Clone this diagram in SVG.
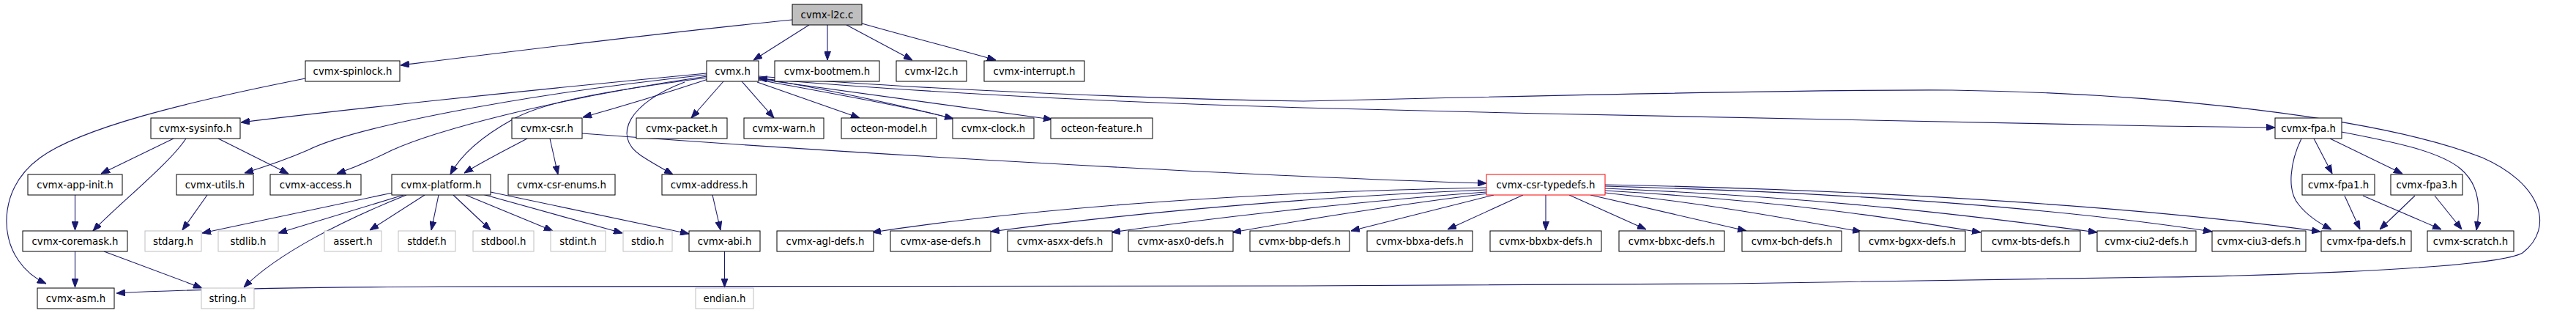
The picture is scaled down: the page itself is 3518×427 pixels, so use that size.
<svg xmlns="http://www.w3.org/2000/svg" width="3518" height="427" viewBox="0 0 3518 427">
<style>
rect{fill:#fff;stroke:#000;stroke-width:1}
.s rect{stroke:#bfbfbf}
.r rect{stroke:#ff0000}
.m rect{fill:#bfbfbf}
text{font-family:"DejaVu Sans","Liberation Sans",sans-serif;font-size:13.3px;text-anchor:middle;fill:#000}
#edges path{fill:none;stroke:#191970;stroke-width:1.1}
#edges path.f{marker-end:url(#a)}
#edges path.b{marker-start:url(#a)}
</style>
<defs>
<marker id="a" markerUnits="userSpaceOnUse" markerWidth="12" markerHeight="9" viewBox="0 0 12 9" refX="12" refY="4.5" orient="auto-start-reverse">
<path d="M0,0 L12,4.5 L0,9 z" fill="#191970" stroke="#191970" stroke-width="1"/>
</marker>
</defs>
<rect x="0" y="0" width="3518" height="427" style="fill:#fff;stroke:none"/>
<g id="edges">
<path class="f" d="M1082,27 C900,45 700,70 547,89"/>
<path class="f" d="M1105,34 L1029,82"/>
<path class="f" d="M1130,34 L1130,82"/>
<path class="f" d="M1156,34 L1246,82"/>
<path class="f" d="M1177,32 C1240,50 1300,65 1360,82"/>
<path class="f" d="M417,107 C250,140 110,175 55,215 C0,255 0,320 25,355 C35,370 48,380 63,387"/>
<path class="f" d="M965,100 C700,125 450,152 329,167"/>
<path class="f" d="M965,102 C700,130 480,175 420,205 C390,218 360,228 334,236"/>
<path class="f" d="M966,104 C750,135 590,180 535,205 C505,220 485,228 460,237"/>
<path class="f" d="M967,108 C900,130 850,145 796,160"/>
<path class="f" d="M965,106 C820,125 740,140 700,163 C660,185 630,210 615,238"/>
<path class="f" d="M935,112 C860,140 835,185 875,212 C890,222 905,230 919,238"/>
<path class="f" d="M988,111 L944,161"/>
<path class="f" d="M1013,111 L1057,161"/>
<path class="f" d="M1034,112 L1174,161"/>
<path class="f" d="M1036,109 C1150,130 1250,148 1302,162"/>
<path class="b" d="M1036,106 C1150,126 1240,146 1302,162"/>
<path class="f" d="M1036,108 C1200,130 1350,150 1437,163"/>
<path class="f" d="M1036,107 C1300,130 1600,142 1780,147 C2200,158 2700,168 2950,172 C3010,173 3060,173 3107,174"/>
<path class="f" d="M1036,104 C1300,125 1600,135 1780,138 C2200,128 2500,122 2666,123 C2950,127 3250,160 3390,215 C3470,250 3490,310 3445,345 C3400,370 3000,378 2950,378 L2360,387 L1770,390 L600,391 C400,392 250,395 159,400"/>
<path class="f" d="M795,182 C1200,212 1700,240 2030,250"/>
<path class="f" d="M720,189 C690,205 660,220 634,236"/>
<path class="f" d="M751,189 L762,238"/>
<path class="f" d="M237,189 L138,237"/>
<path class="f" d="M254,189 C230,225 160,280 127,315"/>
<path class="f" d="M298,189 L394,237"/>
<path class="f" d="M102.5,266 L102.5,314"/>
<path class="f" d="M283,266 L249,314"/>
<path class="f" d="M102.5,343 L102.5,392"/>
<path class="f" d="M142,343 L276,393"/>
<path class="f" d="M536,263 L276,318"/>
<path class="f" d="M551,266 L380,318"/>
<path class="f" d="M555,266 C470,300 380,345 333,392"/>
<path class="f" d="M580,266 L505,314"/>
<path class="f" d="M599,266 L589,314"/>
<path class="f" d="M619,266 L670,314"/>
<path class="f" d="M636,266 L755,315"/>
<path class="f" d="M659,265 L850,318"/>
<path class="f" d="M670,262 L941,319"/>
<path class="f" d="M973,266 L984,314"/>
<path class="f" d="M989.5,343 L989.5,392"/>
<path class="f" d="M2030,256 C1700,262 1400,285 1191,317"/>
<path class="f" d="M2030,259 C1800,268 1550,290 1353,316"/>
<path class="f" d="M2030,262 C1850,275 1650,298 1518,317"/>
<path class="f" d="M2032,264 C1900,280 1780,300 1683,317"/>
<path class="f" d="M2040,266 L1845,315"/>
<path class="f" d="M2080,266 L1977,313"/>
<path class="f" d="M2111,266 L2111,314"/>
<path class="f" d="M2143,266 L2248,313"/>
<path class="f" d="M2172,266 L2385,315"/>
<path class="f" d="M2192,263 C2350,280 2450,300 2542,316"/>
<path class="f" d="M2192,260 C2450,275 2600,300 2705,317"/>
<path class="f" d="M2192,257 C2500,270 2700,295 2864,317"/>
<path class="f" d="M2192,254 C2600,265 2850,290 3021,316"/>
<path class="f" d="M2192,252 C2600,260 2950,285 3169,316"/>
<path class="f" d="M3143,189 C3128,220 3122,260 3140,280 C3152,295 3168,305 3184,313"/>
<path class="f" d="M3160,189 L3185,237"/>
<path class="f" d="M3182,189 L3281,237"/>
<path class="f" d="M3198,180 C3260,192 3330,205 3360,230 C3390,255 3386,290 3382,314"/>
<path class="f" d="M3202,267 L3223,313"/>
<path class="f" d="M3227,267 L3334,313"/>
<path class="f" d="M3298,267 L3250,313"/>
<path class="f" d="M3325,267 L3362,313"/>
</g>
<g id="n_l2cc" class="m"><rect x="1082" y="6" width="95" height="28"/><text x="1129.5" y="24.7">cvmx-l2c.c</text></g>
<g id="n_spinlock"><rect x="417" y="83" width="129" height="28"/><text x="481.5" y="101.7">cvmx-spinlock.h</text></g>
<g id="n_cvmx"><rect x="965" y="83" width="71" height="28"/><text x="1000.5" y="101.7">cvmx.h</text></g>
<g id="n_bootmem"><rect x="1058" y="83" width="143" height="28"/><text x="1129.5" y="101.7">cvmx-bootmem.h</text></g>
<g id="n_l2ch"><rect x="1224" y="83" width="96" height="28"/><text x="1272" y="101.7">cvmx-l2c.h</text></g>
<g id="n_interrupt"><rect x="1344" y="83" width="137" height="28"/><text x="1412.5" y="101.7">cvmx-interrupt.h</text></g>
<g id="n_sysinfo"><rect x="206" y="161" width="122" height="28"/><text x="267" y="179.7">cvmx-sysinfo.h</text></g>
<g id="n_csr"><rect x="699" y="161" width="96" height="28"/><text x="747" y="179.7">cvmx-csr.h</text></g>
<g id="n_packet"><rect x="869" y="161" width="124" height="28"/><text x="931" y="179.7">cvmx-packet.h</text></g>
<g id="n_warn"><rect x="1016" y="161" width="109" height="28"/><text x="1070.5" y="179.7">cvmx-warn.h</text></g>
<g id="n_model"><rect x="1149" y="161" width="130" height="28"/><text x="1214" y="179.7">octeon-model.h</text></g>
<g id="n_clock"><rect x="1301" y="161" width="111" height="28"/><text x="1356.5" y="179.7">cvmx-clock.h</text></g>
<g id="n_feature"><rect x="1435" y="161" width="139" height="28"/><text x="1504.5" y="179.7">octeon-feature.h</text></g>
<g id="n_fpa"><rect x="3107" y="161" width="91" height="28"/><text x="3152.5" y="179.7">cvmx-fpa.h</text></g>
<g id="n_appinit"><rect x="38" y="238" width="129" height="28"/><text x="102.5" y="256.7">cvmx-app-init.h</text></g>
<g id="n_utils"><rect x="241" y="238" width="105" height="28"/><text x="293.5" y="256.7">cvmx-utils.h</text></g>
<g id="n_access"><rect x="369" y="238" width="124" height="28"/><text x="431" y="256.7">cvmx-access.h</text></g>
<g id="n_platform"><rect x="535" y="238" width="135" height="28"/><text x="602.5" y="256.7">cvmx-platform.h</text></g>
<g id="n_enums"><rect x="694" y="238" width="146" height="28"/><text x="767" y="256.7">cvmx-csr-enums.h</text></g>
<g id="n_address"><rect x="904" y="238" width="129" height="28"/><text x="968.5" y="256.7">cvmx-address.h</text></g>
<g id="n_typedefs" class="r"><rect x="2030" y="238" width="162" height="28"/><text x="2111" y="256.7">cvmx-csr-typedefs.h</text></g>
<g id="n_fpa1"><rect x="3144" y="238" width="99" height="28"/><text x="3193.5" y="256.7">cvmx-fpa1.h</text></g>
<g id="n_fpa3"><rect x="3265" y="238" width="98" height="28"/><text x="3314" y="256.7">cvmx-fpa3.h</text></g>
<g id="n_coremask"><rect x="31" y="315" width="143" height="28"/><text x="102.5" y="333.7">cvmx-coremask.h</text></g>
<g id="n_stdarg" class="s"><rect x="198" y="315" width="77" height="28"/><text x="236.5" y="333.7">stdarg.h</text></g>
<g id="n_stdlib" class="s"><rect x="298" y="315" width="82" height="28"/><text x="339" y="333.7">stdlib.h</text></g>
<g id="n_assert" class="s"><rect x="443" y="315" width="78" height="28"/><text x="482" y="333.7">assert.h</text></g>
<g id="n_stddef" class="s"><rect x="544" y="315" width="78" height="28"/><text x="583" y="333.7">stddef.h</text></g>
<g id="n_stdbool" class="s"><rect x="646" y="315" width="83" height="28"/><text x="687.5" y="333.7">stdbool.h</text></g>
<g id="n_stdint" class="s"><rect x="752" y="315" width="75" height="28"/><text x="789.5" y="333.7">stdint.h</text></g>
<g id="n_stdio" class="s"><rect x="851" y="315" width="67" height="28"/><text x="884.5" y="333.7">stdio.h</text></g>
<g id="n_abi"><rect x="941" y="315" width="97" height="28"/><text x="989.5" y="333.7">cvmx-abi.h</text></g>
<g id="n_agl"><rect x="1061" y="315" width="132" height="28"/><text x="1127" y="333.7">cvmx-agl-defs.h</text></g>
<g id="n_ase"><rect x="1216" y="315" width="137" height="28"/><text x="1284.5" y="333.7">cvmx-ase-defs.h</text></g>
<g id="n_asxx"><rect x="1376" y="315" width="143" height="28"/><text x="1447.5" y="333.7">cvmx-asxx-defs.h</text></g>
<g id="n_asx0"><rect x="1541" y="315" width="143" height="28"/><text x="1612.5" y="333.7">cvmx-asx0-defs.h</text></g>
<g id="n_bbp"><rect x="1707" y="315" width="136" height="28"/><text x="1775" y="333.7">cvmx-bbp-defs.h</text></g>
<g id="n_bbxa"><rect x="1867" y="315" width="144" height="28"/><text x="1939" y="333.7">cvmx-bbxa-defs.h</text></g>
<g id="n_bbxbx"><rect x="2035" y="315" width="152" height="28"/><text x="2111" y="333.7">cvmx-bbxbx-defs.h</text></g>
<g id="n_bbxc"><rect x="2211" y="315" width="144" height="28"/><text x="2283" y="333.7">cvmx-bbxc-defs.h</text></g>
<g id="n_bch"><rect x="2379" y="315" width="136" height="28"/><text x="2447" y="333.7">cvmx-bch-defs.h</text></g>
<g id="n_bgxx"><rect x="2539" y="315" width="145" height="28"/><text x="2611.5" y="333.7">cvmx-bgxx-defs.h</text></g>
<g id="n_bts"><rect x="2706" y="315" width="135" height="28"/><text x="2773.5" y="333.7">cvmx-bts-defs.h</text></g>
<g id="n_ciu2"><rect x="2864" y="315" width="135" height="28"/><text x="2931.5" y="333.7">cvmx-ciu2-defs.h</text></g>
<g id="n_ciu3"><rect x="3021" y="315" width="128" height="28"/><text x="3085" y="333.7">cvmx-ciu3-defs.h</text></g>
<g id="n_fpadefs"><rect x="3170" y="315" width="123" height="28"/><text x="3231.5" y="333.7">cvmx-fpa-defs.h</text></g>
<g id="n_scratch"><rect x="3315" y="315" width="118" height="28"/><text x="3374" y="333.7">cvmx-scratch.h</text></g>
<g id="n_asm"><rect x="51" y="393" width="105" height="28"/><text x="103.5" y="411.7">cvmx-asm.h</text></g>
<g id="n_string" class="s"><rect x="275" y="393" width="72" height="28"/><text x="311" y="411.7">string.h</text></g>
<g id="n_endian" class="s"><rect x="950" y="393" width="79" height="28"/><text x="989.5" y="411.7">endian.h</text></g>
</svg>
